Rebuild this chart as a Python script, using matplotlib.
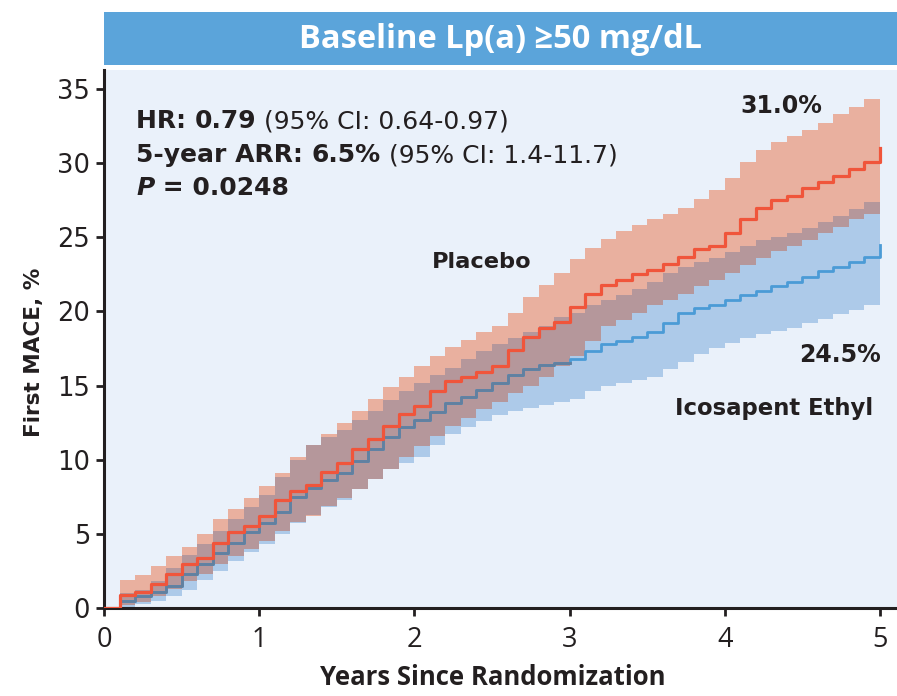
import numpy as np
import matplotlib
matplotlib.use("Agg")
import matplotlib.pyplot as plt
from matplotlib.patches import Rectangle

# ---------------- data ----------------
years = [0.0, 0.1, 0.2, 0.3, 0.4, 0.5, 0.6, 0.7, 0.8, 0.9,
         1.0, 1.1, 1.2, 1.3, 1.4, 1.5, 1.6, 1.7, 1.8, 1.9,
         2.0, 2.1, 2.2, 2.3, 2.4, 2.5, 2.6, 2.7, 2.8, 2.9,
         3.0, 3.1, 3.2, 3.3, 3.4, 3.5, 3.6, 3.7, 3.8, 3.9,
         4.0, 4.1, 4.2, 4.3, 4.4, 4.5, 4.6, 4.7, 4.8, 4.9, 5.0]

placebo = [0, 0.9, 1.1, 1.6, 2.3, 3.0, 3.4, 4.4, 5.1, 5.5,
           6.2, 7.3, 7.9, 8.3, 9.2, 9.8, 10.7, 11.4, 12.3, 13.1,
           13.6, 14.6, 15.3, 15.6, 15.9, 16.3, 17.4, 18.3, 18.9, 19.3,
           20.3, 21.2, 21.8, 22.1, 22.5, 22.8, 23.2, 23.7, 24.2, 24.4,
           25.3, 26.2, 27.0, 27.5, 27.8, 28.3, 28.7, 29.1, 29.6, 30.1, 31.0]
placebo_hi = [0, 1.9, 2.2, 2.8, 3.5, 4.1, 5.0, 6.0, 6.7, 7.4,
              8.2, 9.1, 10.2, 11.0, 11.7, 12.5, 13.3, 14.1, 14.9, 15.6,
              16.3, 17.0, 17.6, 18.1, 18.6, 19.0, 19.9, 21.0, 21.8, 22.6,
              23.5, 24.3, 24.9, 25.4, 25.8, 26.2, 26.6, 27.0, 27.6, 28.2,
              29.0, 30.1, 30.9, 31.4, 31.8, 32.2, 32.7, 33.3, 33.8, 34.3, 34.9]
placebo_lo = [0, 0.2, 0.4, 0.8, 1.3, 1.8, 2.3, 3.0, 3.5, 4.0,
              4.5, 5.2, 5.8, 6.2, 6.9, 7.4, 8.0, 8.7, 9.4, 10.2,
              10.9, 11.6, 12.3, 12.8, 13.4, 13.9, 14.5, 15.0, 15.6, 16.3,
              17.0, 18.0, 19.0, 19.4, 19.9, 20.4, 20.8, 21.2, 21.7, 22.1,
              22.6, 23.1, 23.6, 24.1, 24.4, 24.8, 25.3, 25.7, 26.2, 26.6, 27.0]

icosapent = [0, 0.5, 0.8, 1.1, 1.5, 2.3, 3.0, 3.7, 4.4, 5.1,
             5.7, 6.5, 7.5, 8.1, 8.6, 9.1, 9.9, 10.7, 11.5, 12.2,
             12.7, 13.2, 13.8, 14.2, 14.7, 15.2, 15.7, 16.1, 16.4, 16.5,
             16.8, 17.3, 17.8, 18.0, 18.3, 18.6, 19.2, 19.9, 20.2, 20.4,
             20.8, 21.1, 21.4, 21.7, 22.0, 22.3, 22.7, 23.0, 23.3, 23.7, 24.5]
icosapent_hi = [0, 1.0, 1.2, 1.8, 2.7, 3.6, 4.3, 5.2, 6.0, 6.8,
                7.6, 8.8, 10.0, 11.0, 11.5, 12.0, 12.7, 13.3, 14.0, 14.6,
                15.2, 15.7, 16.2, 16.8, 17.3, 17.8, 18.2, 18.6, 19.0, 19.6,
                19.9, 20.4, 20.8, 21.1, 21.5, 22.0, 22.6, 23.0, 23.3, 23.6,
                24.0, 24.4, 24.8, 25.0, 25.3, 25.6, 26.0, 26.4, 26.9, 27.4, 28.0]
icosapent_lo = [0, 0.0, 0.3, 0.5, 0.8, 1.2, 1.9, 2.5, 3.2, 3.8,
                4.3, 5.0, 5.7, 6.3, 6.8, 7.3, 8.0, 8.7, 9.4, 9.8,
                10.2, 11.0, 11.7, 12.2, 12.6, 13.0, 13.3, 13.5, 13.7, 13.9,
                14.1, 14.6, 15.0, 15.2, 15.4, 15.6, 16.1, 16.6, 17.1, 17.5,
                17.9, 18.2, 18.5, 18.7, 18.9, 19.2, 19.5, 19.8, 20.1, 20.4, 21.3]

x_ticks = [0, 1, 2, 3, 4, 5]
y_ticks = [0, 5, 10, 15, 20, 25, 30, 35]
title = "Baseline Lp(a) \u226550 mg/dL"

# ---------------- styling ----------------
BG = "#EAF1FA"
BAR = "#5BA4DA"
RED = "#F0553B"
BLUE = "#4B9BD6"
RED_BAND = "#E9B09F"
BLUE_BAND = "#ADCAE9"
OVERLAP = "#B5979B"
BLUE_IN_OVERLAP = "#62809F"
TXT = "#231F20"
COND = ["Open Sans", "DejaVu Sans"]
SANS = ["DejaVu Sans"]

t = np.array(years)
pl, pl_hi, pl_lo = map(np.array, (placebo, placebo_hi, placebo_lo))
ie, ie_hi, ie_lo = map(np.array, (icosapent, icosapent_hi, icosapent_lo))

fig = plt.figure(figsize=(8.97, 6.96), dpi=100)
fig.patch.set_facecolor("white")

# title bar
fig.patches.append(Rectangle((104 / 897, 1 - 65 / 696), 1 - 104 / 897, 53 / 696,
                             transform=fig.transFigure, facecolor=BAR,
                             edgecolor="none", zorder=0))
fig.text((104 + 897) / 2 / 897, 1 - 39 / 696, title, color="white",
         fontsize=23.5, fontweight="bold", family=COND, ha="center", va="center")

ax = fig.add_axes([104 / 897, 1 - 608 / 696, 1 - 104 / 897, (608 - 70) / 696])
ax.set_facecolor(BG)

# bands
ax.fill_between(t, ie_lo, ie_hi, step="post", color=BLUE_BAND, lw=0, zorder=1)
ax.fill_between(t, pl_lo, pl_hi, step="post", color=RED_BAND, lw=0, zorder=2)
ov_lo = np.maximum(pl_lo, ie_lo)
ov_hi = np.minimum(pl_hi, ie_hi)
ax.fill_between(t, ov_lo, ov_hi, where=ov_hi > ov_lo, step="post",
                color=OVERLAP, lw=0, zorder=3, interpolate=False)

# lines
ax.step(t, ie, where="post", color=BLUE, lw=2.0, zorder=4)
inside = (ie >= ov_lo) & (ie <= ov_hi)
ie_in = np.where(inside, ie, np.nan)
ax.step(t, ie_in, where="post", color=BLUE_IN_OVERLAP, lw=2.0, zorder=5)
ax.step(t, pl, where="post", color=RED, lw=2.3, zorder=6)

ax.set_xlim(0, (897 - 104) / 155.2)
ax.set_ylim(0, (608 - 70) / 14.83)
ax.set_xticks(x_ticks)
ax.set_yticks(y_ticks)
ax.set_xticklabels([str(v) for v in x_ticks], family=COND, fontsize=19.5, color=TXT)
ax.set_yticklabels([str(v) for v in y_ticks], family=SANS, fontsize=18.5, color=TXT)
for s in ("top", "right"):
    ax.spines[s].set_visible(False)
for s in ("left", "bottom"):
    ax.spines[s].set_linewidth(2.2)
    ax.spines[s].set_color(TXT)
ax.tick_params(axis="both", length=6, width=2, color=TXT, direction="out")
ax.tick_params(axis="x", pad=7)
ax.tick_params(axis="y", pad=4)

ax.set_xlabel("Years Since Randomization", family=COND, fontsize=18.5,
              fontweight="bold", color=TXT)
ax.xaxis.set_label_coords((493 - 104) / 793, (608 - 664) / 538)
ax.set_ylabel("First MACE, %", family=SANS, fontsize=15.5, fontweight="bold",
              color=TXT)
ax.yaxis.set_label_coords((44 - 104) / 793, (608 - 352) / 538)


def rich_line(x, y, parts, size=18):
    prev = None
    for txt, weight, style in parts:
        if prev is None:
            prev = ax.text(x, y, txt, transform=ax.transAxes, fontsize=size,
                           fontweight=weight, fontstyle=style, family=SANS,
                           color=TXT, ha="left", va="baseline")
        else:
            prev = ax.annotate(txt, xy=(1, 0), xycoords=prev, fontsize=size,
                               fontweight=weight, fontstyle=style, family=SANS,
                               color=TXT, ha="left", va="bottom")


def ax_frac(px, py):
    return ((px - 104) / (897 - 104), (608 - py) / (608 - 70))


x0, y0 = ax_frac(136, 128)
rich_line(x0, y0, [("HR: ", "bold", "normal"), ("0.79", "bold", "normal"),
                   (" (95% CI: 0.64-0.97)", "normal", "normal")])
x0, y0 = ax_frac(136, 162)
rich_line(x0, y0, [("5-year ARR: ", "bold", "normal"), ("6.5%", "bold", "normal"),
                   (" (95% CI: 1.4-11.7)", "normal", "normal")])
x0, y0 = ax_frac(136, 195)
rich_line(x0, y0, [("P", "bold", "italic"), (" = 0.0248", "bold", "normal")])

for label, px, py, fs in [("31.0%", 781, 106, 17), ("Placebo", 482, 262, 16.2),
                          ("24.5%", 840, 355, 17), ("Icosapent Ethyl", 774, 408, 16.4)]:
    fx, fy = ax_frac(px, py)
    ax.text(fx, fy, label, transform=ax.transAxes, fontsize=fs,
            fontweight="bold", family=SANS, color=TXT, ha="center", va="center")

fig.savefig("out.png", dpi=100, facecolor="white")
